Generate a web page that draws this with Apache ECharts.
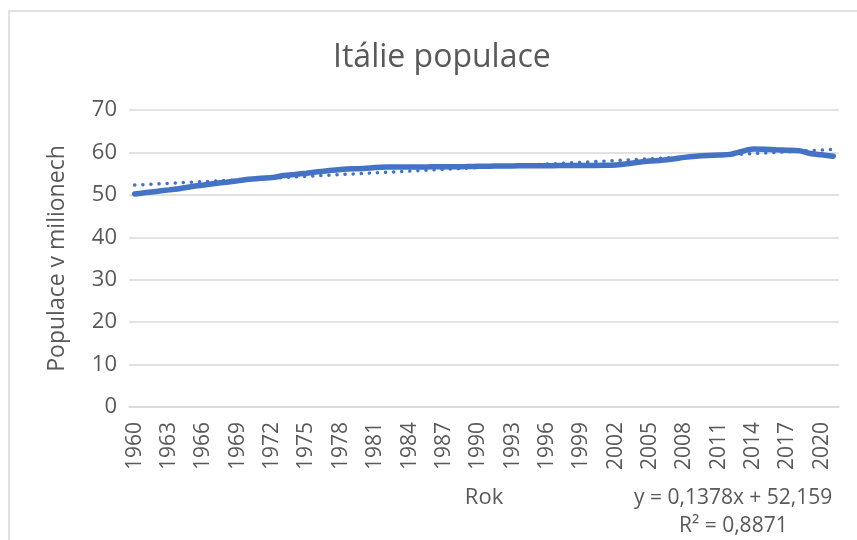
<!DOCTYPE html>
<html>
<head>
<meta charset="utf-8">
<script src="https://cdn.jsdelivr.net/npm/echarts@6/dist/echarts.min.js"></script>
<style>
    html, body { margin: 0; padding: 0; background: #fff; }
    #chart { width: 857px; height: 540px; }
</style>
</head>
<body>
<div id="chart"></div>
<script>
var years = [];
for (var y = 1960; y <= 2021; y++) years.push(String(y));

// population of Italy, millions
var population = [
    50.20, 50.54, 50.84, 51.17, 51.52, 51.99, 52.33, 52.67, 52.99, 53.32,
    53.66, 53.93, 54.07, 54.54, 54.83, 55.11, 55.44, 55.72, 55.96, 56.13,
    56.22, 56.43, 56.54, 56.56, 56.59, 56.59, 56.60, 56.60, 56.63, 56.67,
    56.72, 56.76, 56.80, 56.83, 56.84, 56.84, 56.86, 56.89, 56.91, 56.92,
    56.94, 56.97, 57.06, 57.31, 57.69, 57.97, 58.14, 58.44, 58.83, 59.10,
    59.28, 59.38, 59.54, 60.23, 60.79, 60.73, 60.63, 60.54, 60.42, 59.73,
    59.44, 59.11
];

// linear trend line, value at first and last year
var trendEnds = [52.30, 60.70];

var yTicks = [0, 10, 20, 30, 40, 50, 60, 70];

var trend = years.map(function (_, i) {
    if (i === 0) return trendEnds[0];
    if (i === years.length - 1) return trendEnds[1];
    return null;
});

var font = 'Open Sans';
var grey = '#595959';

var myChart = echarts.init(document.getElementById('chart'));
var option = {
    animation: false,
    title: {
        text: 'Itálie populace',
        left: 328,
        top: 37,
        textStyle: { fontFamily: font, fontSize: 32, fontWeight: 'normal', color: grey }
    },
    grid: { left: 129, right: 18, top: 110, bottom: 133 },
    xAxis: {
        type: 'category',
        data: years,
        boundaryGap: true,
        name: 'Rok',
        nameLocation: 'middle',
        nameGap: 80,
        nameTextStyle: { fontFamily: font, fontSize: 22, color: grey },
        axisLine: { lineStyle: { color: '#d9d9d9', width: 1.5 } },
        axisTick: { show: false },
        axisLabel: {
            interval: 2,
            rotate: 90,
            margin: 15,
            fontFamily: font,
            fontSize: 21,
            color: grey
        }
    },
    yAxis: {
        type: 'value',
        min: yTicks[0],
        max: yTicks[yTicks.length - 1],
        interval: 10,
        name: 'Populace v milionech',
        nameLocation: 'middle',
        nameGap: 60,
        nameTextStyle: { fontFamily: font, fontSize: 23, color: grey },
        axisLine: { show: false },
        axisTick: { show: false },
        splitLine: { lineStyle: { color: '#d9d9d9', width: 1.5 } },
        axisLabel: { margin: 12, fontFamily: font, fontSize: 22, color: grey }
    },
    series: [{
        name: 'Populace',
        type: 'line',
        data: population,
        showSymbol: false,
        smooth: 0.3,
        lineStyle: { color: '#4472c4', width: 5.5, cap: 'round' },
        z: 3
    }, {
        name: 'Trend',
        type: 'line',
        data: trend,
        connectNulls: true,
        showSymbol: false,
        lineStyle: { color: '#4472c4', width: 3.5, type: [0.1, 8], cap: 'round' },
        z: 2
    }],
    graphic: [{
        type: 'rect',
        shape: { x: 9, y: 11, width: 900, height: 600 },
        style: { fill: null, stroke: '#d9d9d9', lineWidth: 1.5 },
        silent: true
    }, {
        type: 'text',
        left: 634,
        top: 488,
        style: { text: 'y = 0,1378x + 52,159', font: '21px "Open Sans"', fill: grey }
    }, {
        type: 'text',
        left: 679,
        top: 516,
        style: { text: 'R² = 0,8871', font: '21px "Open Sans"', fill: grey }
    }]
};
myChart.setOption(option);
</script>
</body>
</html>
